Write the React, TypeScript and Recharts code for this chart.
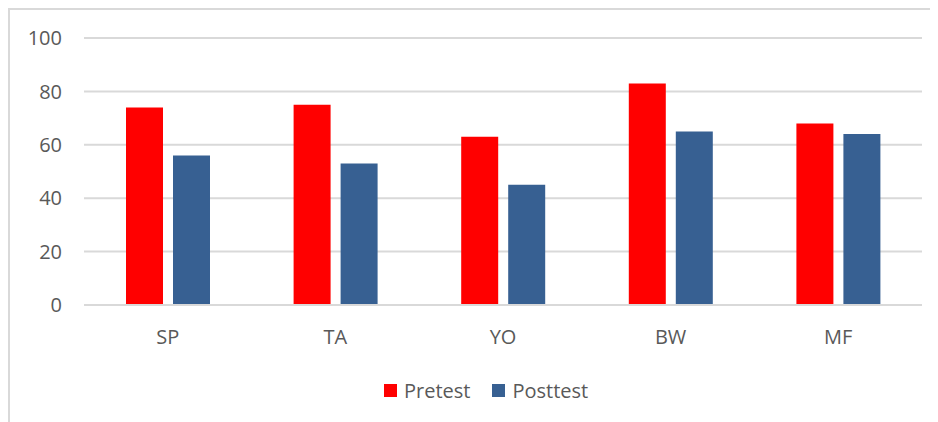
import React from 'react';
import { BarChart, Bar, XAxis, YAxis, CartesianGrid, Legend } from 'recharts';

const categories = ['SP', 'TA', 'YO', 'BW', 'MF'];
const pretest = [74, 75, 63, 83, 68];
const posttest = [56, 53, 45, 65, 64];
const yTicks = [0, 20, 40, 60, 80, 100];

const RED = '#ff0000';
const BLUE = '#376092';
const TEXT = '#595959';
const GRID = '#d9d9d9';
const FONT = '"Open Sans", "Liberation Sans", sans-serif';

const data = categories.map((name, i) => ({ name, Pretest: pretest[i], Posttest: posttest[i] }));

const LegendContent = () => (
  <div style={{ display: 'flex', alignItems: 'center', paddingLeft: 360, fontFamily: FONT, fontSize: 20, color: TEXT, height: 36 }}>
    <span style={{ width: 13, height: 13, background: RED, display: 'inline-block', marginRight: 7 }} />
    <span style={{ marginRight: 22 }}>Pretest</span>
    <span style={{ width: 13, height: 13, background: BLUE, display: 'inline-block', marginRight: 7 }} />
    <span>Posttest</span>
  </div>
);

export default function App() {
  return (
    <div style={{ width: 930, height: 414, borderTop: `2px solid ${GRID}`, borderLeft: `2px solid ${GRID}`, background: '#fff' }}>
      <BarChart
        width={928}
        height={412}
        data={data}
        margin={{ top: 28, right: 16, left: 14, bottom: 14 }}
        barSize={37}
        barGap={10}
      >
        <CartesianGrid vertical={false} stroke={GRID} strokeWidth={2} />
        <XAxis
          dataKey="name"
          height={67}
          tickLine={false}
          tickSize={0}
          tickMargin={25}
          axisLine={{ stroke: GRID, strokeWidth: 2 }}
          tick={{ fontSize: 20, fill: TEXT, fontFamily: FONT }}
        />
        <YAxis
          width={60}
          domain={[0, 100]}
          ticks={yTicks}
          axisLine={false}
          tickLine={false}
          tickSize={0}
          tickMargin={22}
          tick={{ fontSize: 20, fill: TEXT, fontFamily: FONT }}
        />
        <Legend verticalAlign="bottom" height={36} content={<LegendContent />} />
        <Bar dataKey="Pretest" fill={RED} isAnimationActive={false} />
        <Bar dataKey="Posttest" fill={BLUE} isAnimationActive={false} />
      </BarChart>
    </div>
  );
}
